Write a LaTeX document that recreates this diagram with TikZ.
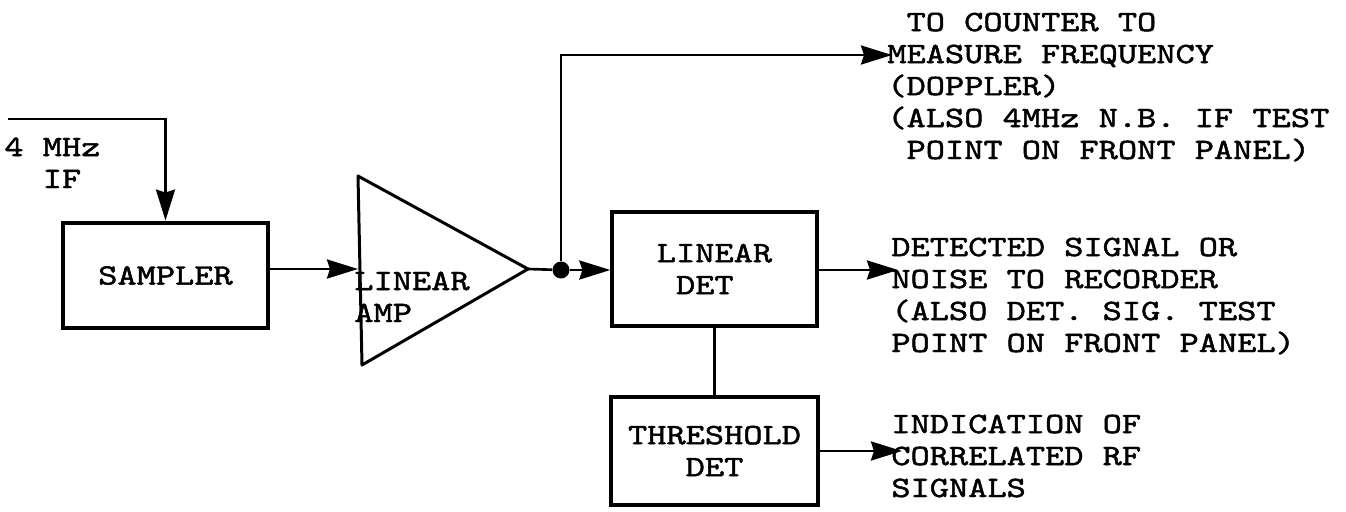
\documentclass[tikz,border=0pt]{standalone}
\usepackage{fontspec}
\setmonofont{lmmono10-regular.otf}[FakeStretch=1.24,FakeBold=1.6]
\usetikzlibrary{arrows.meta}

\begin{document}
\begin{tikzpicture}[x=0.02cm,y=-0.02cm,
    font=\ttfamily\fontsize{16.8}{18.2}\selectfont,
    box/.style={draw,line width=1.9pt,inner sep=0pt},
    wire/.style={line width=1.5pt},
    sig/.style={wire,-{Stealth[length=0.62cm,width=0.38cm,inset=0.06cm]}},
    note/.style={align=left,anchor=base west,inner sep=0pt}]
  \useasboundingbox (0,0) rectangle (1346,511);
  % blocks
  \node[box,line width=2.8pt,minimum width=4.1cm,minimum height=2.1cm] (sampler) at (165.5,275.5) {SAMPLER};
  \node[box,minimum width=4.1cm,minimum height=2.28cm,align=left] (lindet) at (714.5,269) {LINEAR\\\ DET};
  \node[box,minimum width=4.14cm,minimum height=2.16cm,align=center] (thresh) at (714.5,451) {THRESHOLD\\DET};
  % amplifier
  \draw[wire,line width=1.7pt,line join=round] (358,176) -- (528,269) -- (362,365) -- cycle;
  \coordinate (ampin) at (358,269);
  \coordinate (ampout) at (528,269);
  \node[note] (amptext) at (354,322) {LINEAR\\AMP};
  \node[circle,fill,inner sep=0pt,minimum size=0.34cm] (tap) at (561,270) {};
  % signal ends
  \coordinate (ifin) at (8,119);
  \coordinate (counter) at (892,55);
  \coordinate (rec) at (898,270);
  \coordinate (ind) at (902,451);
  \draw[sig] (ifin) -- (ifin -| sampler.north) -- (sampler.north);
  \draw[sig] (sampler.east |- ampin) -- (ampin);
  \draw[wire] (ampout) -- (tap);
  \draw[sig] (tap) -- (tap -| lindet.west);
  \draw[sig] (tap) -- (tap |- counter) -- (counter);
  \draw[sig] (lindet.east |- rec) -- (rec);
  \draw[wire] (lindet.south) -- (thresh.north);
  \draw[sig] (thresh.east |- ind) -- (ind);
  % labels (anchored on the last line)
  \node[note] (iftext) at (4,188) {4 MHz\\\ \ IF};
  \node[note] (countertext) at (887,159) {\ TO COUNTER TO\\MEASURE FREQUENCY\\(DOPPLER)\\(ALSO 4MHz N.B. IF TEST\\\ POINT ON FRONT PANEL)};
  \node[note] (rectext) at (891,352) {DETECTED SIGNAL OR\\NOISE TO RECORDER\\(ALSO DET. SIG. TEST\\POINT ON FRONT PANEL)};
  \node[note] (indtext) at (891,497) {INDICATION OF\\CORRELATED RF\\SIGNALS};
\end{tikzpicture}
\end{document}
